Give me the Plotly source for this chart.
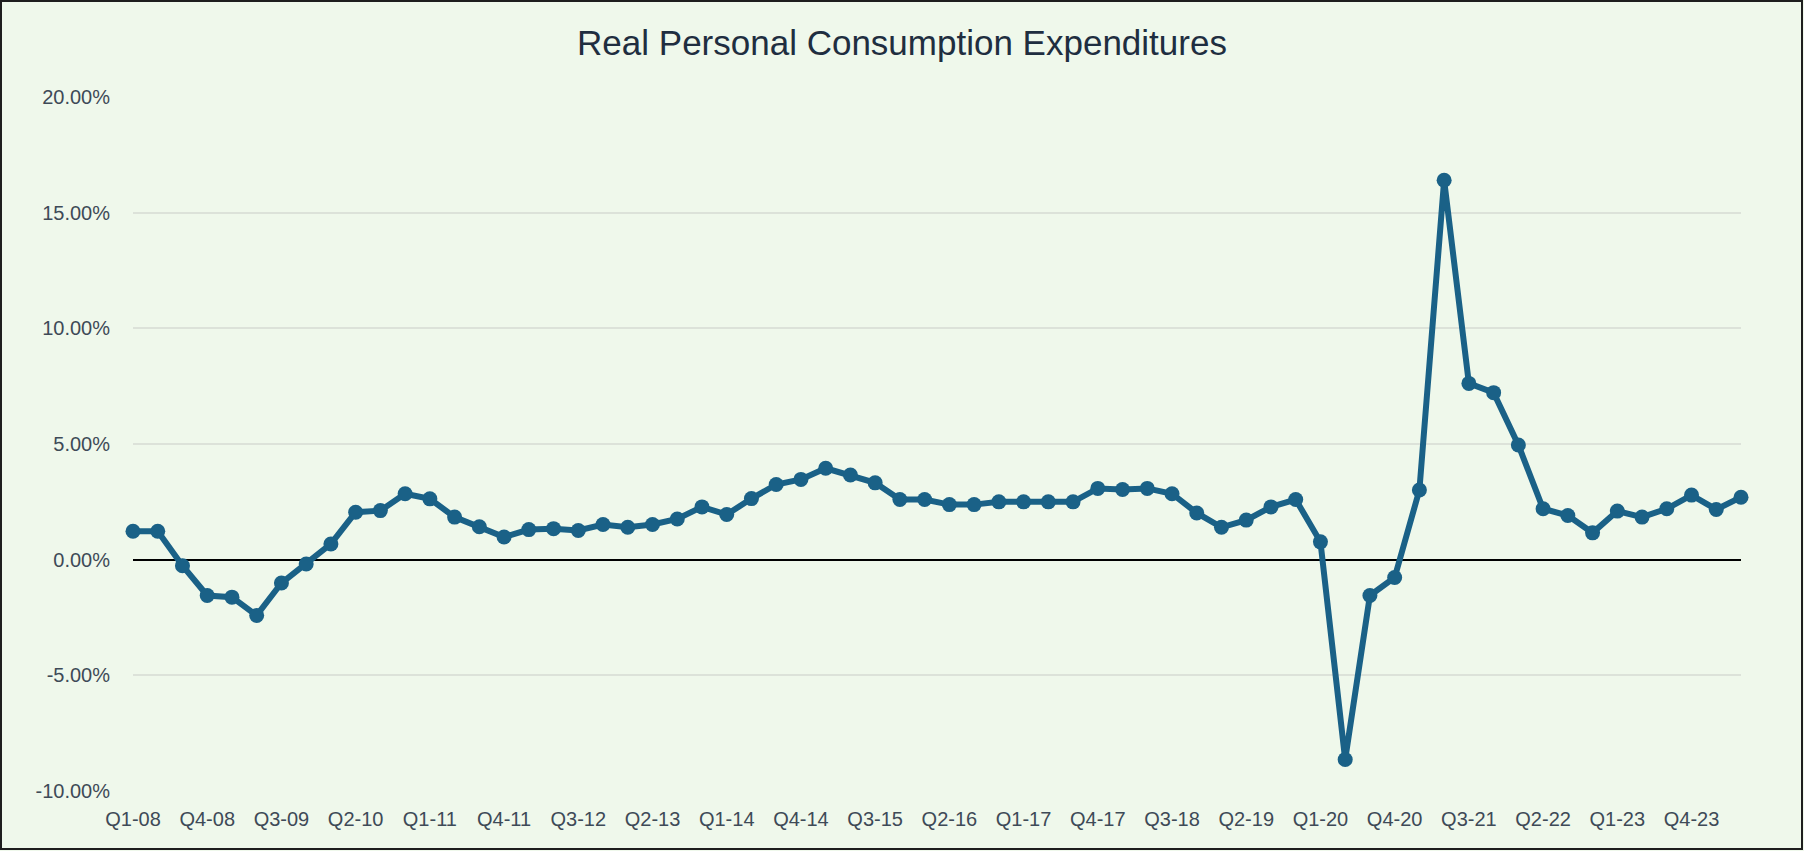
import plotly.graph_objects as go

# ---- data ----
quarters = [f"Q{q}-{y:02d}" for y in range(8, 25) for q in range(1, 5)][:66]
pce_growth = [
    1.23, 1.23, -0.26, -1.55, -1.62, -2.41, -1.01, -0.19,   # 2008-2009
    0.68, 2.05, 2.12, 2.85,                                  # 2010
    2.63, 1.84, 1.42, 0.98,                                  # 2011
    1.30, 1.34, 1.26, 1.52,                                  # 2012
    1.40, 1.52, 1.76, 2.28,                                  # 2013
    1.95, 2.64, 3.25, 3.47,                                  # 2014
    3.95, 3.66, 3.32, 2.60,                                  # 2015
    2.60, 2.38, 2.38, 2.50,                                  # 2016
    2.50, 2.50, 2.50, 3.08,                                  # 2017
    3.03, 3.08, 2.85, 2.02,                                  # 2018
    1.40, 1.71, 2.28, 2.60,                                  # 2019
    0.77, -8.64, -1.55, -0.77,                               # 2020
    3.01, 16.40, 7.62, 7.22,                                 # 2021
    4.96, 2.20, 1.91, 1.16,                                  # 2022
    2.10, 1.84, 2.20, 2.79,                                  # 2023
    2.17, 2.70,                                              # 2024
]
x_tick_labels = quarters[::3]
y_ticks = [-10, -5, 0, 5, 10, 15, 20]
title_text = "Real Personal Consumption Expenditures"

# ---- layout constants ----
W, H = 1804, 851
ML, MR, MT, MB = 133, 63, 97, 60
PW, PH = W - ML - MR, H - MT - MB
BG = "#EFF8EB"
LINE = "#1A6187"
TICK_COLOR = "#3E4A57"
FONT = "Liberation Sans"

fig = go.Figure()
fig.add_trace(go.Scatter(
    x=quarters, y=pce_growth, mode="lines+markers",
    line=dict(color=LINE, width=6),
    marker=dict(color=LINE, size=15),
    cliponaxis=False, showlegend=False,
))

def px_to_paper_x(px):
    return (px - ML) / PW

def px_to_paper_y(py):
    return (H - py - MB) / PH

fig.add_shape(type="rect", xref="paper", yref="paper",
              x0=px_to_paper_x(1), x1=px_to_paper_x(1802),
              y0=px_to_paper_y(849), y1=px_to_paper_y(1),
              line=dict(color="#1E1E1E", width=2), layer="above")

fig.update_layout(
    width=W, height=H,
    margin=dict(l=ML, r=MR, t=MT, b=MB),
    paper_bgcolor=BG, plot_bgcolor=BG,
    title=dict(text=title_text, x=0.5, xanchor="center",
               y=1 - 43 / H, yanchor="middle", yref="container",
               font=dict(family=FONT, size=35, color="#1F2E40")),
    font=dict(family=FONT, size=20, color=TICK_COLOR),
)
fig.update_xaxes(
    type="category", categoryorder="array", categoryarray=quarters,
    range=[0, len(quarters) - 1],
    tickmode="array", tickvals=x_tick_labels, ticktext=x_tick_labels,
    showgrid=False, zeroline=False, showline=False, ticks="",
    ticklabelstandoff=14, tickangle=0,
    tickfont=dict(family=FONT, size=20, color=TICK_COLOR),
)
fig.update_yaxes(
    range=[-10, 20], tickmode="array", tickvals=y_ticks,
    ticktext=[f"{v:.2f}%" for v in y_ticks],
    showgrid=True, gridcolor="#DCE2D9", gridwidth=2,
    zeroline=True, zerolinecolor="#000000", zerolinewidth=2,
    showline=False, ticks="", ticklabelstandoff=22,
    tickfont=dict(family=FONT, size=20, color=TICK_COLOR),
)

fig.write_html("out.html",
               config={"displayModeBar": False},
               post_script="document.body.style.margin='0';document.body.style.overflow='hidden';")
